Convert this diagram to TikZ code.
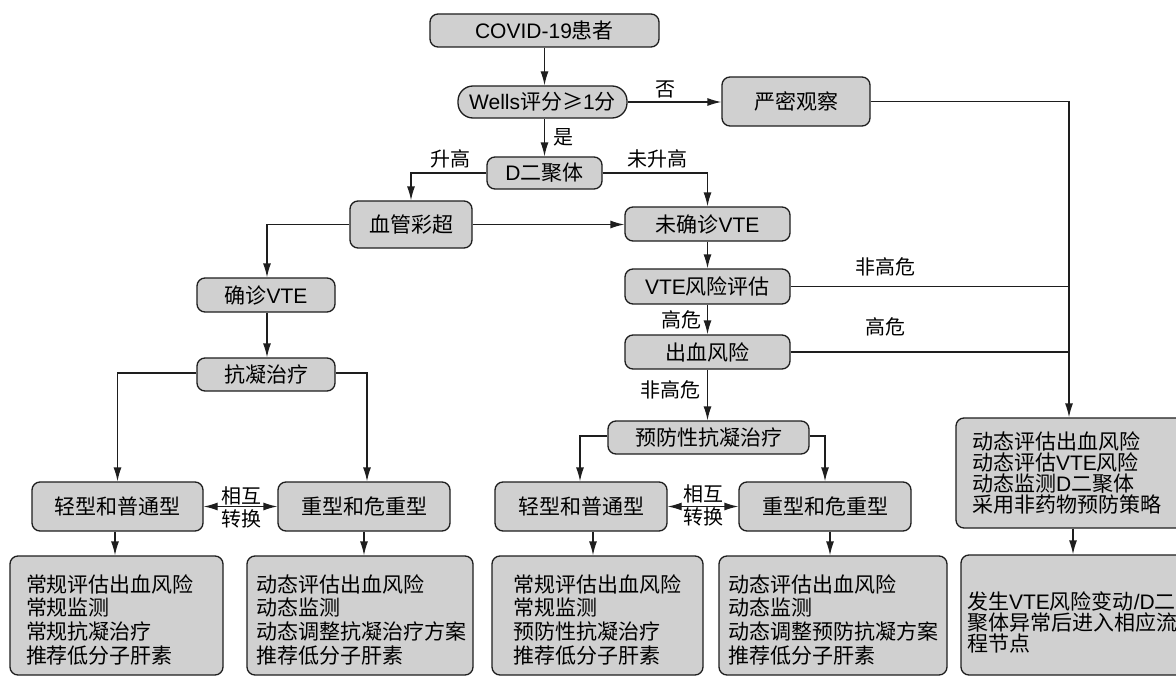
\documentclass[tikz,border=0pt]{standalone}
\usepackage{fontspec}
\setmainfont{Noto Sans CJK SC}
\newfontfamily\latf{Liberation Sans}
\newcommand\ltn[1]{{\latf #1}}
\usetikzlibrary{arrows.meta}
\definecolor{boxgray}{HTML}{D0D0D0}
\definecolor{edgec}{HTML}{1E1E1E}
\newcommand\fzb{\fontsize{21}{23.7}\selectfont}
\newcommand\fzr{\fontsize{21}{21}\selectfont}
\newcommand\fzl{\fontsize{20}{22}\selectfont}
\newcommand\upstrut[1]{\rule{0pt}{#1}}
\begin{document}
\begin{tikzpicture}[x=1pt,y=-1pt,
  mybox/.style={draw=edgec, fill=boxgray, rounded corners=8pt, line width=1.3pt, font=\fzb, inner sep=0pt, align=center},
  multibox/.style={mybox, align=left, font=\fzb},
  lbl/.style={font=\fzl, inner sep=0pt},
  conn/.style={draw=edgec, line width=1.3pt},
  arr/.style={conn, -{Latex[length=14pt,width=8pt]}},
  darr/.style={conn, {Latex[length=14pt,width=8pt]}-{Latex[length=14pt,width=8pt]}}]
\useasboundingbox (0,0) rectangle (1176,677);
\clip (0,0) rectangle (1176,677);
\fill[white] (0,0) rectangle (1176,677);

% top
\node[mybox, minimum width=229, minimum height=33] (covid) at (544.5,30.5) {\ltn{COVID-19}患者};
\node[mybox, minimum width=169, minimum height=32, rounded corners=15pt] (wells) at (542.5,102) {\ltn{Wells}评分≥\ltn{1}分};
\node[mybox, minimum width=148, minimum height=49] (yanmi) at (796,101.5) {严密观察};
\node[mybox, minimum width=115, minimum height=32] (ddimer) at (544.5,173) {\ltn{D}二聚体};
\node[mybox, minimum width=122, minimum height=47] (xueguan) at (411,224.5) {血管彩超};
\node[mybox, minimum width=165, minimum height=34] (weiqz) at (707.5,224) {未确诊\ltn{VTE}};
% left column
\node[mybox, minimum width=138, minimum height=34] (qz) at (266,295) {确诊\ltn{VTE}};
\node[mybox, minimum width=138, minimum height=33] (kn) at (266,374.5) {抗凝治疗};
\node[mybox, minimum width=171, minimum height=49] (qx1) at (117.5,506.5) {轻型和普通型};
\node[mybox, minimum width=172, minimum height=49] (zx1) at (364,506.5) {重型和危重型};
\node[multibox, minimum height=119, text width=181, inner xsep=16] (b1) at (116.5,615.5)
  {\upstrut{26pt}常规评估出血风险\\常规监测\\常规抗凝治疗\\推荐低分子肝素};
\node[multibox, minimum height=119, text width=208, inner xsep=9] (b2) at (360,615.5)
  {\upstrut{26pt}动态评估出血风险\\动态监测\\动态调整抗凝治疗方案\\推荐低分子肝素};
% middle column
\node[mybox, minimum width=165, minimum height=35] (vtefx) at (707.5,286.5) {\ltn{VTE}风险评估};
\node[mybox, minimum width=165, minimum height=34] (cxfx) at (707.5,352) {出血风险};
\node[mybox, minimum width=201, minimum height=33] (yf) at (708.5,437.5) {预防性抗凝治疗};
\node[mybox, minimum width=172, minimum height=49] (qx2) at (581,506.5) {轻型和普通型};
\node[mybox, minimum width=172, minimum height=49] (zx2) at (825,506.5) {重型和危重型};
\node[multibox, minimum height=119, text width=169, inner xsep=21] (b3) at (597.5,615.5)
  {\upstrut{26pt}常规评估出血风险\\常规监测\\预防性抗凝治疗\\推荐低分子肝素};
\node[multibox, minimum height=119, text width=210, inner xsep=9] (b4) at (833,615.5)
  {\upstrut{26pt}动态评估出血风险\\动态监测\\动态调整预防抗凝方案\\推荐低分子肝素};
% right column
\node[multibox, font=\fzr, minimum height=110, text width=208, inner xsep=16] (r1) at (1076,473)
  {动态评估出血风险\\动态评估\ltn{VTE}风险\\动态监测\ltn{D}二聚体\\采用非药物预防策略};
\node[multibox, font=\fzr, minimum height=120, text width=223, inner xsep=6] (r2) at (1078.5,615)
  {\upstrut{32pt}发生\ltn{VTE}风险变动\ltn{/D}二\\聚体异常后进入相应流\\程节点};
\coordinate (rj) at (1069,0);

% connectors
\draw[arr] (covid.south) -- (covid.south |- wells.north);
\draw[arr] (ddimer.north |- wells.south) -- (ddimer.north);
\draw[arr] (wells.east) -- (wells.east -| yanmi.west);
\node[lbl] (lno) at (665,89) {否};
\node[lbl] (lyes) at (563,137) {是};
\draw[arr] (ddimer.west) -| (xueguan.north);
\draw[arr] (ddimer.east) -| (weiqz.north);
\node[lbl] (lup) at (450,159) {升高};
\node[lbl] (lnup) at (657,159) {未升高};
\draw[arr] (xueguan.east) -- (xueguan.east -| weiqz.west);
\draw[arr] (xueguan.west) -| ([xshift=1]qz.north);
\draw[arr] ([xshift=1]qz.south) -- ([xshift=1]kn.north);
\draw[arr] ([yshift=1.5]kn.west) -| (qx1.north);
\draw[arr] ([yshift=1.5]kn.east) -| ([xshift=3]zx1.north);
\draw[darr] (qx1.east) -- (zx1.west);
\node[lbl] (lx1) at (241,496) {相互};
\node[lbl] (lz1) at (241,519) {转换};
\draw[arr] ([xshift=-2.5]qx1.south) -- ([xshift=-2.5]qx1.south |- b1.north);
\draw[arr] (zx1.south) -- (zx1.south |- b2.north);

\draw[arr] (weiqz.south) -- (vtefx.north);
\draw[arr] (vtefx.south) -- (cxfx.north);
\draw[arr] (cxfx.south) -- (cxfx.south |- yf.north);
\node[lbl] (lhi) at (681,320) {高危};
\node[lbl] (lnhi) at (670,390) {非高危};
\draw[arr] ([yshift=1.5]yf.west) -| ([xshift=-1]qx2.north);
\draw[arr] ([yshift=1.5]yf.east) -| (zx2.north);
\draw[darr] (qx2.east) -- (zx2.west);
\node[lbl] (lx2) at (703,494) {相互};
\node[lbl] (lz2) at (703,517) {转换};
\draw[arr] ([xshift=12]qx2.south) -- ([xshift=12]qx2.south |- b3.north);
\draw[arr] ([xshift=5]zx2.south) -- ([xshift=5]zx2.south |- b4.north);

\draw[arr] (yanmi.east) -| (rj |- r1.north);
\draw[conn] (vtefx.east) -- (vtefx.east -| rj);
\draw[conn] (cxfx.east) -- (cxfx.east -| rj);
\node[lbl] (lnhi2) at (885,267) {非高危};
\node[lbl] (lhi2) at (885,327) {高危};
\draw[arr] (1073,0 |- r1.south) -- (1073,0 |- r2.north);
\end{tikzpicture}
\end{document}
